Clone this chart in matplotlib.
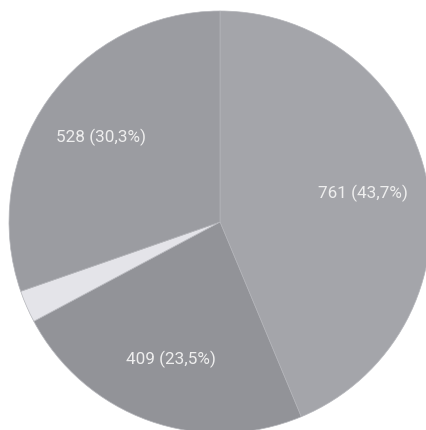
import matplotlib
matplotlib.use("Agg")
import matplotlib.pyplot as plt

# slice counts, clockwise from 12 o'clock
counts = [761, 409, 43, 528]
colors = ["#a4a5aa", "#929398", "#e4e4e9", "#9b9ca1"]
show_label = [True, True, False, True]

total = sum(counts)
labels = []
for c, show in zip(counts, show_label):
    if show:
        pct = f"{100 * c / total:.1f}".replace(".", ",")
        labels.append(f"{c} ({pct}%)")
    else:
        labels.append("")

plt.rcParams["font.family"] = ["Roboto", "DejaVu Sans"]

fig = plt.figure(figsize=(4.27, 4.30), dpi=100)
ax = fig.add_axes([9 / 427, -3 / 430, 422 / 427, 422 / 430])

wedges, texts = ax.pie(
    counts,
    colors=colors,
    labels=labels,
    startangle=90,
    counterclock=False,
    labeldistance=0.69,
    wedgeprops=dict(edgecolor="#b4b5ba", linewidth=0.5),
    textprops=dict(color="#eeeeee", fontsize=12.3, ha="center", va="center"),
)
for t in texts:
    t.set_horizontalalignment("center")

ax.set_aspect("auto")
ax.set_xlim(-1, 1)
ax.set_ylim(-1, 1)
ax.axis("off")

fig.savefig("out.png", dpi=100)
